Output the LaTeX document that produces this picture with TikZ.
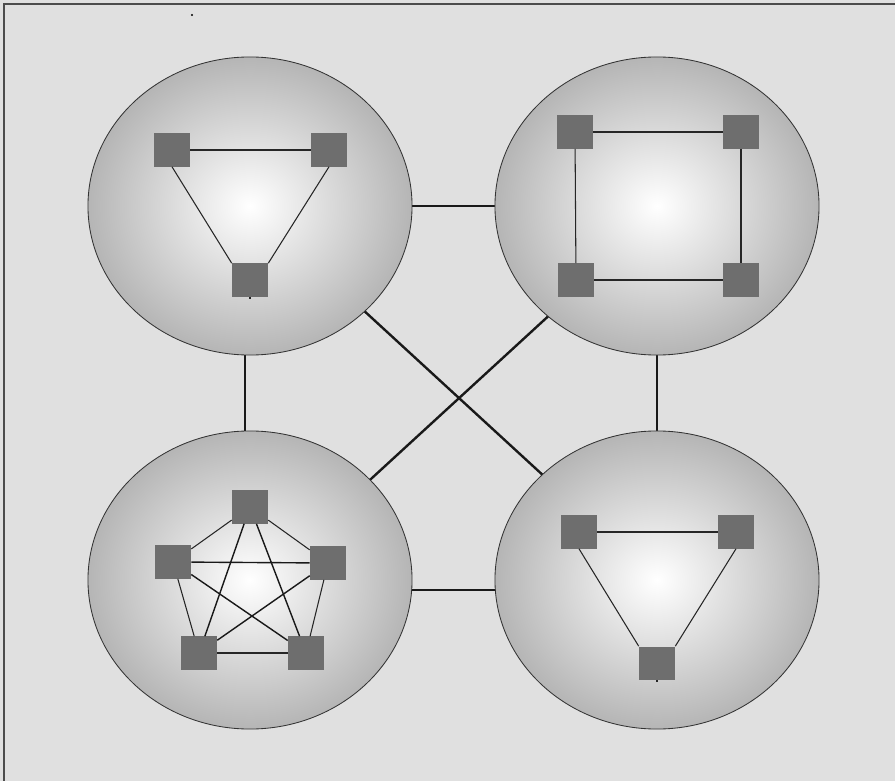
\documentclass[tikz,border=0pt]{standalone}
\usetikzlibrary{shapes.geometric}
\definecolor{paper}{HTML}{E0E0E0}
\definecolor{hubgray}{HTML}{6E6E6E}
\pgfdeclarelayer{paperlayer}
\pgfdeclarelayer{trunklayer}
\pgfsetlayers{paperlayer,trunklayer,main}
\tikzset{
  cluster/.style={ellipse, draw=black!80, line width=0.6pt, inner color=white, outer color=black!29,
    minimum width=8.1cm, minimum height=7.45cm, inner sep=0pt},
  hub/.style={rectangle, fill=hubgray, minimum width=0.9cm, minimum height=0.825cm, inner sep=0pt},
  link/.style={draw=black!85, line width=0.75pt},
  starlink/.style={draw=black!90, line width=1pt},
  trunk/.style={draw=black!90, line width=1.7pt},
  speck/.style={circle, fill=black, minimum size=1.6pt, inner sep=0pt}
}
\begin{document}
\begin{tikzpicture}[x=0.025cm, y=-0.025cm]
    \useasboundingbox (0,0) rectangle (895,781);
    \begin{pgfonlayer}{paperlayer}
        \fill[paper] (0,0) rectangle (895,781);
        \draw[black!70, line width=1.2pt] (4,4) rectangle (905,795);
    \end{pgfonlayer}
    \node[speck] (speck) at (192,15) {};

    \node[cluster] (tl) at (250,206) {};
    \node[cluster] (tr) at (657,206) {};
    \node[cluster] (bl) at (250,580) {};
    \node[cluster] (br) at (657,580) {};

    \begin{pgfonlayer}{trunklayer}
        \draw[trunk] (tl.center) -- (tr.center);
        \draw[trunk] ([yshift=-0.25cm]bl.center) -- ([yshift=-0.25cm]br.center);
        \draw[trunk] ([xshift=-0.125cm]tl.center) -- ([xshift=-0.125cm]bl.center);
        \draw[trunk] (tr.center) -- (br.center);
        \draw[trunk] (tl.center) -- (br.center);
        \draw[trunk] ([yshift=-0.26cm]tr.center) -- ([yshift=-0.25cm]bl.center);
    \end{pgfonlayer}

    \node[hub] (a1) at (172,150) {};
    \node[hub] (a2) at (329,150) {};
    \node[hub] (a3) at (250,280) {};
    \draw[link] (a1) -- (a2);
    \draw[link] (a1.south) -- (a3.north west);
    \draw[link] (a2.south) -- (a3.north east);
    \draw[link] (a3.south) -- ++(0,2);

    \node[hub] (b1) at (575,132) {};
    \node[hub] (b2) at (741,132) {};
    \node[hub] (b3) at (576,280) {};
    \node[hub] (b4) at (741,280) {};
    \draw[link] (b1) -- (b2);
    \draw[link] (b2) -- (b4);
    \draw[link] (b4) -- (b3);
    \draw[link] (b3) -- (b1);

    \node[hub] (c1) at (250,507) {};
    \node[hub] (c2) at (173,562) {};
    \node[hub] (c3) at (328,563) {};
    \node[hub] (c4) at (199,653) {};
    \node[hub] (c5) at (306,653) {};
    \draw[link] (c1) -- (c2);
    \draw[link] (c1) -- (c3);
    \draw[link] (c2) -- (c4);
    \draw[link] (c3) -- (c5);
    \draw[link] (c4) -- (c5);
    \draw[starlink] (c1) -- (c4);
    \draw[starlink] (c1) -- (c5);
    \draw[starlink] (c2) -- (c3);
    \draw[starlink] (c2) -- (c5);
    \draw[starlink] (c3) -- (c4);

    \node[hub] (d1) at (579,532) {};
    \node[hub] (d2) at (736,532) {};
    \node[hub] (d3) at (657,663) {};
    \draw[link] (d1) -- (d2);
    \draw[link] (d1.south) -- (d3.north west);
    \draw[link] (d2.south) -- (d3.north east);
    \draw[link] (d3.south) -- ++(0,2);
\end{tikzpicture}
\end{document}
